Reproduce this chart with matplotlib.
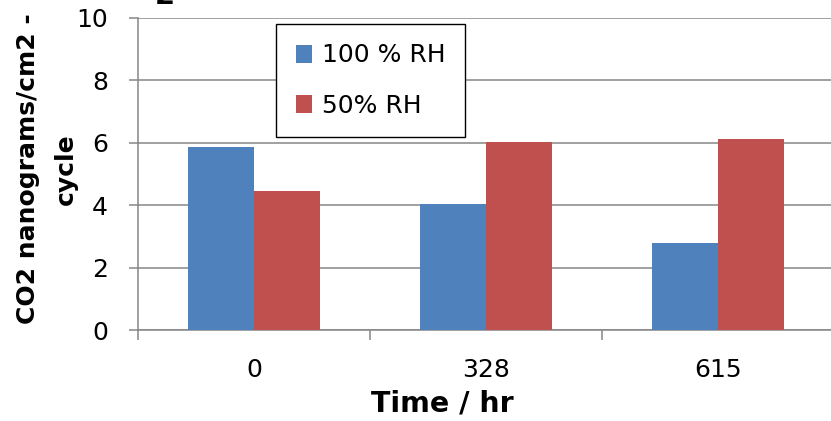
import matplotlib
matplotlib.use("Agg")
import matplotlib.pyplot as plt
import numpy as np

categories = ["0", "328", "615"]
rh100 = [5.87, 4.05, 2.80]
rh50 = [4.46, 6.02, 6.12]
series_labels = ["100 % RH", "50% RH"]
colors = ["#4F81BD", "#C0504D"]
yticks = [0, 2, 4, 6, 8, 10]

plt.rcParams['font.family'] = ['DejaVu Sans']

W, H = 831, 421
fig = plt.figure(figsize=(W / 100, H / 100), dpi=100)
ax = fig.add_axes([138 / W, 91 / H, 696 / W, 312 / H])

x = np.arange(len(categories))
bw = 0.285
ax.bar(x - bw / 2, rh100, bw, color=colors[0], label=series_labels[0], zorder=3)
ax.bar(x + bw / 2, rh50, bw, color=colors[1], label=series_labels[1], zorder=3)

ax.set_xlim(-0.5, 2.5)
ax.set_ylim(0, 10)
ax.set_yticks(yticks)
ax.set_yticklabels([str(v) for v in yticks])

gray = "#868686"
ax.yaxis.grid(True, color=gray, linewidth=1.1, zorder=0)
ax.set_axisbelow(True)
for s in ["top", "right"]:
    ax.spines[s].set_visible(False)
for s in ["left", "bottom"]:
    ax.spines[s].set_color(gray)
    ax.spines[s].set_linewidth(1.1)

ax.tick_params(axis="y", direction="out", length=6.5, width=1.1, color=gray,
               pad=15, labelsize=18)
# major x ticks at category boundaries, labels at centers via minor ticks
ax.set_xticks(np.arange(-0.5, len(categories), 1.0))
ax.set_xticklabels([])
ax.tick_params(axis="x", which="major", direction="out", length=7, width=1.1, color=gray)
ax.set_xticks(x, minor=True)
ax.set_xticklabels(categories, minor=True)
ax.tick_params(axis="x", which="minor", length=0, pad=20, labelsize=18)

ax.set_xlabel("Time / hr", fontsize=20.5, fontweight="bold", labelpad=4)
ax.xaxis.set_label_coords((442 - 138) / 696, -0.19)
ax.xaxis.label.set_va("top")
ax.set_ylabel("CO2 nanograms/cm2 -\ncycle", fontsize=18, fontweight="bold",
              linespacing=1.75)
ax.yaxis.set_label_coords(-(138 - 78) / 696, (421 - 169 - 91) / 312)
ax.yaxis.label.set_va("bottom")

leg = ax.legend(loc="upper left", bbox_to_anchor=(276 / W, 1 - 24 / H),
                bbox_transform=fig.transFigure, fontsize=18, frameon=True,
                fancybox=False, edgecolor="black", framealpha=1,
                borderpad=0.78, labelspacing=1.05, handlelength=0.64,
                handleheight=0.72, handletextpad=0.42, borderaxespad=0)
leg.get_frame().set_linewidth(1.0)

fig.text(165 / W, 1 - 4 / H, "2", fontsize=21, fontweight="bold",
         ha="center", va="baseline")

fig.savefig("out.png", dpi=100)
